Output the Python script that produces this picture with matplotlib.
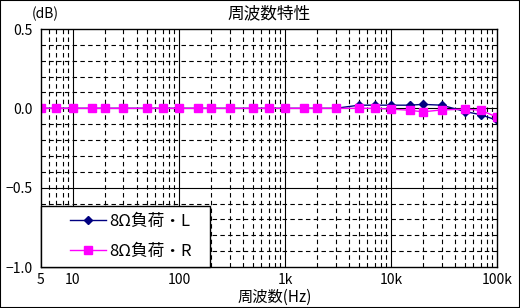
import numpy as np
import matplotlib
matplotlib.use('Agg')
import matplotlib.pyplot as plt
from matplotlib.ticker import FixedLocator, NullFormatter
from matplotlib.patches import Rectangle
from matplotlib.legend_handler import HandlerLine2D

plt.rcParams['font.family'] = ['Noto Sans CJK JP', 'DejaVu Sans']
plt.rcParams['axes.unicode_minus'] = True

# 周波数 (Hz)
freq = [5, 7, 10, 15, 20, 30, 50, 70, 100, 150, 200, 300, 500, 700,
        1000, 1500, 2000, 3000, 5000, 7000, 10000, 15000, 20000, 30000,
        50000, 70000, 100000]
# 8Ω負荷・L (dB)
gain_l = [0.0, 0.0, 0.0, 0.0, 0.0, 0.0, 0.0, 0.0, 0.0, 0.0, 0.0, 0.0, 0.0, 0.0,
          0.0, 0.0, 0.0, 0.0, 0.02, 0.02, 0.02, 0.02, 0.025, 0.02,
          -0.02, -0.04, -0.075]
# 8Ω負荷・R (dB)
gain_r = [0.0, 0.0, 0.0, 0.0, 0.0, 0.0, 0.0, 0.0, 0.0, 0.0, 0.0, 0.0, 0.0, 0.0,
          0.0, 0.0, 0.0, 0.0, 0.0, 0.0, -0.005, -0.012, -0.022, -0.01,
          -0.005, -0.012, -0.055]

xticks = [5, 10, 100, 1000, 10000, 100000]
xticklabels = ['5', '10', '100', '1k', '10k', '100k']
yticks = [0.5, 0.0, -0.5, -1.0]
yticklabels = ['0.5', '0.0', '\u22120.5', '\u22121.0']

fig = plt.figure(figsize=(5.2, 3.08), dpi=100)
ax = fig.add_axes([0.0788, 0.1331, 0.877, 0.7727])

ax.set_xscale('log')
ax.set_xlim(5, 100000)
ax.set_ylim(-1.0, 0.5)

# グリッド
minor_x = [m * 10 ** e for e in range(0, 5) for m in range(2, 10) if 5 < m * 10 ** e < 100000]
for xv in minor_x:
    if xv not in xticks:
        ax.axvline(xv, color='black', lw=0.8, ls=(0, (4, 3)), zorder=1)
for xv in xticks[1:-1]:
    ax.axvline(xv, color='black', lw=0.8, zorder=1)
for yv in np.arange(-0.9, 0.45, 0.1):
    if abs(yv - round(yv * 2) / 2) > 1e-6:
        ax.axhline(yv, color='black', lw=0.8, ls=(0, (4, 3)), zorder=1)
for yv in [0.0, -0.5]:
    ax.axhline(yv, color='black', lw=0.8, zorder=1)

ax.plot(freq, gain_l, color='#000080', lw=1.0, marker='D', ms=4,
        label='8Ω負荷・L', zorder=3)
ax.plot(freq, gain_r, color='#FF00FF', lw=1.0, marker='s', ms=6,
        label='8Ω負荷・R', zorder=4)

ax.xaxis.set_major_locator(FixedLocator(xticks))
ax.set_xticklabels(xticklabels)
ax.xaxis.set_minor_locator(FixedLocator([]))
ax.xaxis.set_minor_formatter(NullFormatter())
ax.set_yticks(yticks)
ax.set_yticklabels(yticklabels)
ax.tick_params(length=0, labelsize=10, pad=6)
ax.tick_params(axis='x', pad=4)
for s in ax.spines.values():
    s.set_linewidth(1.0)
    s.set_zorder(5)

leg = ax.legend(loc='lower left', bbox_to_anchor=(0, 0, 169 / 456, 64 / 238),
                mode='expand', borderaxespad=0,
                fancybox=False, framealpha=1, edgecolor='black', fontsize=12,
                handlelength=3.5, borderpad=0.41, labelspacing=0.82,
                handletextpad=0.2,
                handler_map={plt.Line2D: HandlerLine2D(xpad=1.34)})
leg.get_frame().set_linewidth(1.0)
leg.set_zorder(6)

fig.text(0.517, 0.955, '周波数特性', ha='center', va='center', fontsize=12)
fig.text(0.087, 0.955, '(dB)', ha='center', va='center', fontsize=10)
fig.text(0.529, 0.036, '周波数(Hz)', ha='center', va='center', fontsize=11)

fig.patches.append(Rectangle((0, 0), 1, 1, transform=fig.transFigure,
                             fill=False, edgecolor='black', lw=1.5))

fig.savefig('out.png', dpi=100)
